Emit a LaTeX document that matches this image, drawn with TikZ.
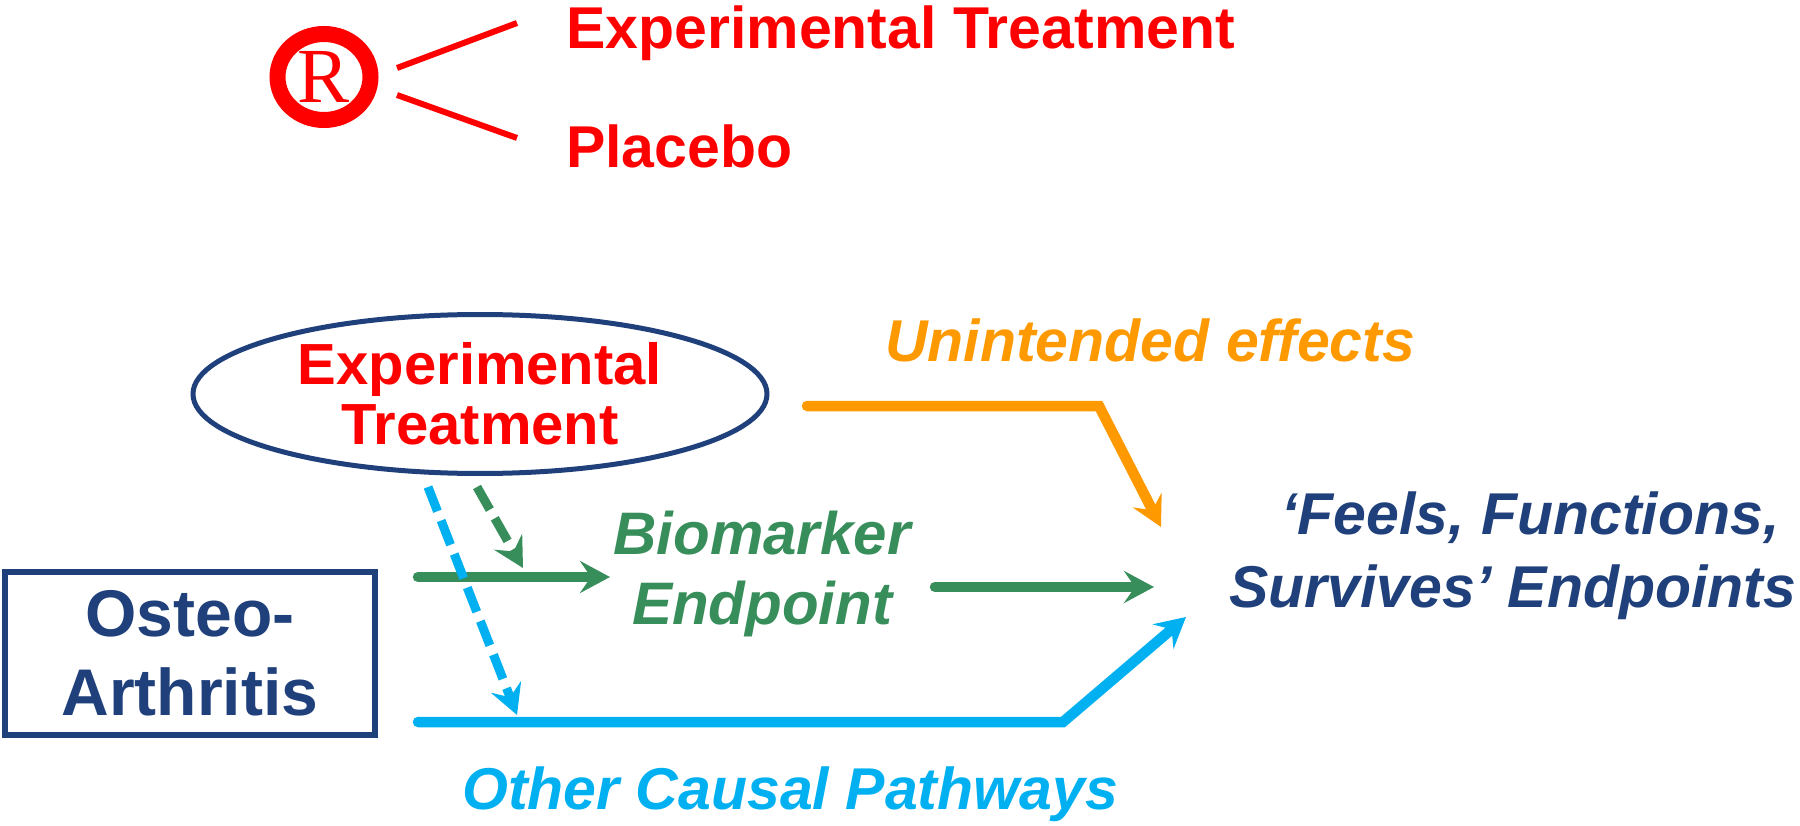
\documentclass[tikz,border=0pt]{standalone}
\usepackage{fontspec}
\setmainfont{Liberation Sans}
\newfontfamily\serifR{Liberation Serif}
\usetikzlibrary{arrows.meta,shapes.geometric}
\definecolor{cRed}{RGB}{255,0,0}
\definecolor{cNavy}{RGB}{31,64,122}
\definecolor{cGreen}{RGB}{56,142,90}
\definecolor{cBlue}{RGB}{0,176,240}
\definecolor{cOrange}{RGB}{255,153,0}
\begin{document}
\begin{tikzpicture}[x=1pt,y=-1pt,
  lbl/.style={inner sep=0pt, font=\bfseries\fontsize{59}{70}\selectfont},
  ilbl/.style={inner sep=0pt, font=\bfseries\itshape\fontsize{59}{73}\selectfont},
  tipst/.style={-{Stealth[length=30pt,width=32pt,inset=11pt]}},
  solidln/.style={line width=10.5pt, line cap=round, line join=miter, tipst},
  dashln/.style={line width=9pt, dash pattern=on 26pt off 10pt, tipst},
  rline/.style={draw=cRed, line width=6pt}
]
\useasboundingbox (0,0) rectangle (1800,826);

% --- randomisation at the top
\node[draw=cRed, line width=16pt, ellipse, minimum width=93pt, minimum height=86pt,
      inner sep=0pt, text=cRed, font=\serifR\fontsize{78}{78}\selectfont] (rc) at (324,77) {R};
\node[lbl, text=cRed, anchor=base west] (et) at (566,49) {Experimental Treatment};
\node[lbl, text=cRed, anchor=base west] (pl) at (566,168) {Placebo};
\coordinate (l1a) at (397,68);
\coordinate (l1b) at (517,23);
\coordinate (l2a) at (397,95);
\coordinate (l2b) at (517,138);
\draw[rline] (l1a) -- (l1b);
\draw[rline] (l2a) -- (l2b);

% --- causal diagram
\node[ellipse, draw=cNavy, line width=5pt, minimum width=574pt, minimum height=159pt,
      inner sep=0pt, align=center, text=cRed,
      font=\bfseries\fontsize{58}{60}\selectfont] (tx) at (480,394) {Experimental\\Treatment};
\node[draw=cNavy, line width=6pt, minimum width=370pt, minimum height=163pt,
      inner sep=0pt, align=center, text=cNavy,
      font=\bfseries\fontsize{66}{79}\selectfont] (oa) at (190,653) {Osteo-\\Arthritis};
\node[ilbl, text=cOrange, anchor=base west] (ue) at (885,362) {Unintended effects};
\node[ilbl, text=cGreen, align=center, font=\bfseries\itshape\fontsize{60}{70}\selectfont] (bm) at (762,574) {Biomarker\\Endpoint};
\node[ilbl, text=cBlue, anchor=base west] (oc) at (462,809) {Other Causal Pathways};
\node[ilbl, text=cNavy, align=left, anchor=west] (fe) at (1229,556) {\hspace*{52pt}‘Feels, Functions,\\Survives’ Endpoints};

\coordinate (o1) at (807,406);
\coordinate (o2) at (1099,406);
\coordinate (o3) at (1161,527);
\coordinate (gd1) at (477,487);
\coordinate (gd2) at (523,568);
\coordinate (bd1) at (428,487);
\coordinate (bd2) at (517,715);
\coordinate (g1a) at (418,577);
\coordinate (g1b) at (610,577);
\coordinate (g2a) at (935,587);
\coordinate (g2b) at (1154,587);
\coordinate (b1) at (418,722);
\coordinate (b2) at (1063,722);
\coordinate (b3) at (1186,617);

\draw[cOrange, solidln] (o1) -- (o2) -- (o3);
\draw[cGreen, solidln] (g1a) -- (g1b);
\draw[cGreen, solidln] (g2a) -- (g2b);
\draw[cBlue, solidln] (b1) -- (b2) -- (b3);
\draw[cBlue, dashln] (bd1) -- (bd2);
\draw[cGreen, dashln] (gd1) -- (gd2);
\end{tikzpicture}
\end{document}
